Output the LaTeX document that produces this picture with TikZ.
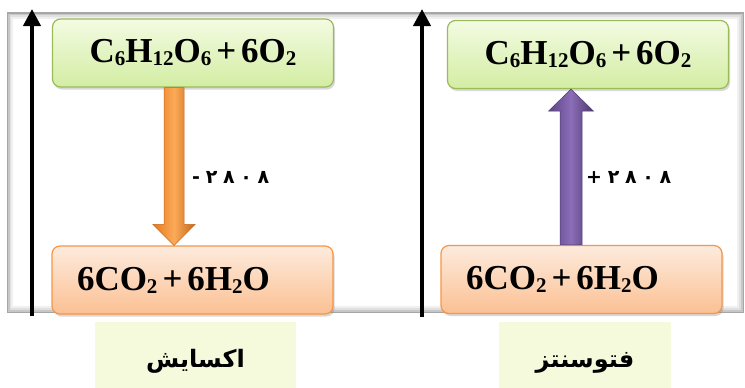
\documentclass[tikz,border=0pt]{standalone}
\usepackage{fontspec}
\setmainfont{Liberation Serif}
\newfontfamily\arabicfont[Script=Arabic]{DejaVu Sans}
\newfontfamily\digitfont[LetterSpace=30]{DejaVu Sans}
\TeXXeTstate=1
\usetikzlibrary{calc,shadows,arrows.meta}
\definecolor{grnfillA}{HTML}{F3FBE2}
\definecolor{grnfillB}{HTML}{D3EDA3}
\definecolor{grnline}{HTML}{9BBB59}
\definecolor{orgfillA}{HTML}{FDEBDD}
\definecolor{orgfillB}{HTML}{FBC093}
\definecolor{orgline}{HTML}{F79646}
\definecolor{labfill}{HTML}{F6FADD}
\definecolor{arrO}{HTML}{E8781E}
\definecolor{arrOmid}{HTML}{FBAA58}
\definecolor{arrP}{HTML}{5E4586}
\definecolor{arrPmid}{HTML}{8B6DB8}
\newcommand\chemsub[1]{\raisebox{-3pt}{\fontsize{21}{21}\selectfont #1}}
\newcommand\chsp{\hspace{5pt}}
\begin{document}
\begin{tikzpicture}[x=1pt,y=-1pt,
  formbox/.style={rounded corners=8pt, minimum height=68pt, text width=231pt,
    inner xsep=25pt, inner ysep=0pt, line width=1.2pt,
    font=\fontsize{35}{38}\selectfont\bfseries,
    drop shadow={opacity=0.3, shadow xshift=1.5pt, shadow yshift=-2.5pt}},
  greenbox/.style={formbox, draw=grnline, top color=grnfillA, bottom color=grnfillB, align=center},
  orangebox/.style={formbox, draw=orgline, top color=orgfillA, bottom color=orgfillB, align=left},
  labbox/.style={fill=labfill, minimum height=66pt, inner sep=0pt, text height=34pt, text depth=10pt,
    font=\arabicfont\bfseries\fontsize{24}{26}\selectfont},
  axisarrow/.style={line width=4pt, -{Triangle[width=17pt,length=17pt]}},
  enlabel/.style={anchor=west, inner sep=0pt, font=\digitfont\bfseries\fontsize{19}{22}\selectfont}
]
\useasboundingbox (0,0) rectangle (745,388);
\fill[white] (0,0) rectangle (745,388);
% panel with inner shadow
\fill[black!35] (7,12) rectangle (744,313);
\fill[black!22] (8,13.5) rectangle (742.5,311.5);
\fill[black!12] (9.5,15) rectangle (741,310);
\fill[black!6] (11,17) rectangle (739,308);
\fill[white] (13,19) rectangle (737,306);

% axes
\coordinate (la0) at (32,316);
\coordinate (la1) at (32,9);
\coordinate (ra0) at (422,317);
\coordinate (ra1) at (422,9);
\draw[axisarrow] (la0) -- (la1);
\draw[axisarrow] (ra0) -- (ra1);

% boxes
\node[greenbox] (g1) at (193,53) {C\chemsub{6}H\chemsub{12}O\chemsub{6}\chsp+\chsp6O\chemsub{2}};
\node[greenbox] (g2) at (588,54.5) {C\chemsub{6}H\chemsub{12}O\chemsub{6}\chsp+\chsp6O\chemsub{2}};
\node[orangebox] (o1) at (192.5,280) {6CO\chemsub{2}\chsp+\chsp6H\chemsub{2}O};
\node[orangebox] (o2) at (581.5,279.5) {6CO\chemsub{2}\chsp+\chsp6H\chemsub{2}O};

% labels
\node[labbox, minimum width=201pt] (lb1) at (195.5,355) {\beginR اکسایش\endR};
\node[labbox, minimum width=172pt] (lb2) at (585,355) {\beginR فتوسنتز\endR};

% orange arrow (down)
\coordinate (ax) at (174,0);
\coordinate (T) at (ax |- g1.south);
\coordinate (B) at (ax |- o1.north);
\path[draw=arrO!85!black, line width=0.5pt, left color=arrO, right color=arrO!85!black, middle color=arrOmid]
  ($(T)+(-10,0)$) -- ($(T)+(10,0)$) -- ($(B)+(10,-21)$) -- ($(B)+(21,-21)$) -- (B)
  -- ($(B)+(-21,-21)$) -- ($(B)+(-10,-21)$) -- cycle;

% purple arrow (up)
\coordinate (px) at (571,0);
\coordinate (P) at (px |- o2.north);
\coordinate (Q) at (px |- g2.south);
\path[draw=arrP!85!black, line width=0.5pt, left color=arrP, right color=arrP!80!black, middle color=arrPmid]
  ($(P)+(-11,0)$) -- ($(P)+(11,0)$) -- ($(Q)+(11,22)$) -- ($(Q)+(22.5,22)$) -- (Q)
  -- ($(Q)+(-22.5,22)$) -- ($(Q)+(-11,22)$) -- cycle;

% energy labels
\node[enlabel] (e1) at (192,177) {-۲۸۰۸};
\node[enlabel] (e2) at (586,177) {+۲۸۰۸};
\end{tikzpicture}
\end{document}
